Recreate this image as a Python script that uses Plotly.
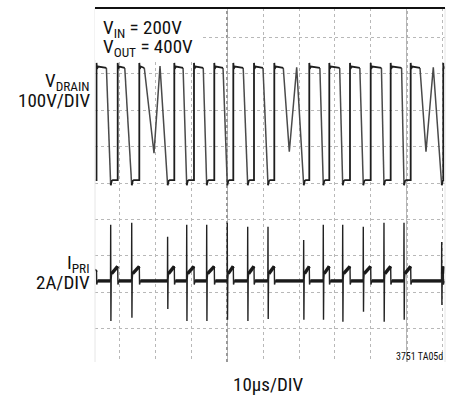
import plotly.graph_objects as go

# ---------------- data ----------------
# time axis in microseconds (10 us / div), V_DRAIN in volts (100 V/div), I_PRI in amps (2 A/div)
trace_start_us = 3.47
trace_end_us = 100.5

V_high = 320          # flat top level of V_DRAIN
V_overshoot = 330     # small overshoot right after each rise
V_low = 8             # bottom level of V_DRAIN
V_undershoot = -6     # hook at the end of each fall

V_rise_us = [3.75, 9.64, 15.64, 25.36, 30.83, 36.47, 41.75, 47.50, 53.14,
             62.86, 68.42, 74.17, 79.92, 85.47, 91.03, 100.08]
V_fall_start_us = [6.50, 11.60, 17.03, 27.80, 33.40, 38.90, 44.50, 50.00, 55.64,
                   65.80, 71.30, 76.90, 82.90, 88.50, 93.61]
V_fall_end_us = [7.69, 13.53, 23.50, 28.81, 34.36, 40.08, 45.75, 51.39, 61.30,
                 66.75, 72.14, 77.86, 83.61, 89.17, 99.64]

# cycles where the drain rings down to a valley and back up before the switch turns on
ring_cycle = [2, 8, 14]
ring_valley_us = [19.72, 57.31, 95.28]
ring_valley_V = [82, 86, 86]
ring_peak_us = [21.39, 59.36, 97.31]
ring_peak_V = [321, 318, 318]

# primary current spikes (at each switch turn-on)
I_spike_us = V_fall_end_us
I_spike_peak_A = [3.08, 3.19, 2.42, 3.08, 3.08, 3.19, 2.97, 2.97, 2.25,
                  3.08, 3.08, 2.97, 3.19, 3.19, 2.14]
I_spike_trough_A = [-2.20, -2.03, -1.54, -2.20, -2.20, -2.14, -2.20, -2.09, -2.14,
                    -2.14, -2.25, -1.70, -2.25, -2.14, -1.32]
I_ramp_start_A = 0.40
I_ramp_end_A = 0.80

# channel offsets (divisions) and scales
V_offset_div = 0.0
V_per_div = 100.0
I_offset_div = -2.69
I_per_div = 2.0

# ---------------- build the traces ----------------
def join(segs):
    xs, ys = [], []
    for sx, sy in segs:
        xs += list(sx) + [None]
        ys += list(sy) + [None]
    return xs, ys

v_dark, v_fall, v_ring = [], [], []
cur_x, cur_y = [trace_start_us], [V_low]
for k in range(len(V_fall_start_us)):
    r = V_rise_us[k]
    cur_x += [r, r, r + 0.12, r + 0.45, V_fall_start_us[k]]
    cur_y += [V_low, V_overshoot, V_high - 6, V_high, V_high - 4]
    v_dark.append((cur_x, cur_y))
    fe = V_fall_end_us[k]
    if k in ring_cycle:
        j = ring_cycle.index(k)
        v_ring.append(([V_fall_start_us[k], ring_valley_us[j], ring_peak_us[j], fe],
                       [V_high - 4, ring_valley_V[j], ring_peak_V[j], V_undershoot]))
    else:
        v_fall.append(([V_fall_start_us[k], fe], [V_high - 4, V_undershoot]))
    cur_x, cur_y = [fe, fe + 0.3, fe + 0.6], [V_undershoot, V_low - 2, V_low]
r = V_rise_us[-1]
cur_x += [r, r, r + 0.12, r + 0.45, trace_end_us]
cur_y += [V_low, V_overshoot, V_high - 6, V_high, V_high]
v_dark.append((cur_x, cur_y))

def vdiv(segs):
    return [(sx, [V_offset_div + v / V_per_div for v in sy]) for sx, sy in segs]

# current: thin full trace (spikes) + thick noisy baseline band
i_full_x = [trace_start_us, V_rise_us[0], V_rise_us[0] + 0.06, V_rise_us[0] + 0.3]
i_full_y = [0.55, 0.6, -0.2, 0.0]
i_band = [([trace_start_us, V_rise_us[0]], [0.55, 0.6])]
prev = V_rise_us[0] + 0.3
for k, ts in enumerate(I_spike_us):
    nr = V_rise_us[k + 1]
    end = min(nr + 0.3, trace_end_us)
    i_full_x += [ts - 0.05, ts, ts + 0.06, ts + 0.14, ts + 0.25, nr, nr + 0.06, end]
    i_full_y += [0.0, I_spike_peak_A[k], I_spike_trough_A[k], 0.1, I_ramp_start_A,
                 I_ramp_end_A, -0.2, 0.0]
    i_band.append(([prev, ts - 0.05], [0.0, 0.0]))
    i_band.append(([ts + 0.25, nr], [I_ramp_start_A, I_ramp_end_A]))
    prev = end
i_full_x.append(trace_end_us); i_full_y.append(0.0)
if prev < trace_end_us:
    i_band.append(([prev, trace_end_us], [0.0, 0.0]))

def idiv(segs):
    return [(sx, [I_offset_div + a / I_per_div for a in sy]) for sx, sy in segs]

# ---------------- figure ----------------
fig = go.Figure()
def add(segs, color, width):
    x, y = join(segs)
    fig.add_trace(go.Scatter(x=x, y=y, mode="lines", line=dict(color=color, width=width),
                             hoverinfo="skip", showlegend=False, connectgaps=False))

add(vdiv(v_fall), "#4a4a4a", 1.5)
add(vdiv(v_ring), "#4a4a4a", 1.5)
add(vdiv(v_dark), "#1e1e1e", 1.8)
add(idiv([(i_full_x, i_full_y)]), "#222222", 1.4)
add(idiv(i_band), "#1a1a1a", 3.4)

FONT = "Roboto Condensed, Liberation Sans Narrow, Arial Narrow, Liberation Sans, Arial, sans-serif"
W, H = 456, 395
L, R, T, B = 95, 11, 8, 33
pw, ph = W - L - R, H - T - B

def px(x):
    return (x - L) / pw

def py(y):
    return 1 - (y - T) / ph

grid = "#b8b8b8"
fig.update_xaxes(range=[3.33, 100.56], dtick=10, tick0=0, showgrid=True, gridcolor=grid,
                 griddash="dot", gridwidth=1, showticklabels=False, ticks="", zeroline=False,
                 showline=False)
fig.update_yaxes(range=[-4.918, 4.808], dtick=1, tick0=0, showgrid=True, gridcolor=grid,
                 griddash="dot", gridwidth=1, showticklabels=False, ticks="", zeroline=False,
                 showline=False)

shapes = [
    dict(type="line", xref="x", yref="paper", x0=40, x1=40, y0=0, y1=1,
         line=dict(color="#555555", width=1.2, dash="dot"), layer="between"),
    dict(type="line", xref="x", yref="paper", x0=90, x1=90, y0=0, y1=1,
         line=dict(color="#777777", width=1.1, dash="dot"), layer="between"),
    dict(type="line", xref="paper", yref="paper", x0=0, x1=0, y0=0, y1=1,
         line=dict(color="#e6e6e6", width=1)),
    dict(type="line", xref="paper", yref="paper", x0=1, x1=1, y0=0, y1=1,
         line=dict(color="#e6e6e6", width=1)),
    dict(type="rect", xref="paper", yref="paper", x0=0, x1=px(201), y0=py(60), y1=1,
         fillcolor="white", line=dict(width=0), layer="above"),
    dict(type="line", xref="paper", yref="paper", x0=0, x1=1, y0=1, y1=1,
         line=dict(color="#111111", width=2), layer="above"),
]

ann = [
    dict(text="V<sub>IN</sub> = 200V", x=px(101), y=py(28), xanchor="left", size=19),
    dict(text="V<sub>OUT</sub> = 400V", x=px(101), y=py(48), xanchor="left", size=19),
    dict(text="V<sub>DRAIN</sub>", x=px(92), y=py(82), xanchor="right", size=19),
    dict(text="100V/DIV", x=px(92), y=py(101), xanchor="right", size=19),
    dict(text="I<sub>PRI</sub>", x=px(92), y=py(263), xanchor="right", size=19),
    dict(text="2A/DIV", x=px(92), y=py(282), xanchor="right", size=19),
    dict(text="10µs/DIV", x=px(268), y=py(384), xanchor="center", size=19),
    dict(text="3751 TA05d", x=px(445), y=py(356), xanchor="right", size=10),
]
fig.update_layout(
    width=W, height=H, margin=dict(l=L, r=R, t=T, b=B),
    paper_bgcolor="white", plot_bgcolor="white",
    shapes=shapes,
    annotations=[dict(text=a["text"], x=a["x"], y=a["y"], xref="paper", yref="paper",
                      xanchor=a["xanchor"], yanchor="middle", showarrow=False,
                      font=dict(family=FONT, size=a["size"], color="#111111"))
                 for a in ann],
)
fig.write_html("out.html", config={"displayModeBar": False},
               post_script="document.body.style.margin='0px';")
